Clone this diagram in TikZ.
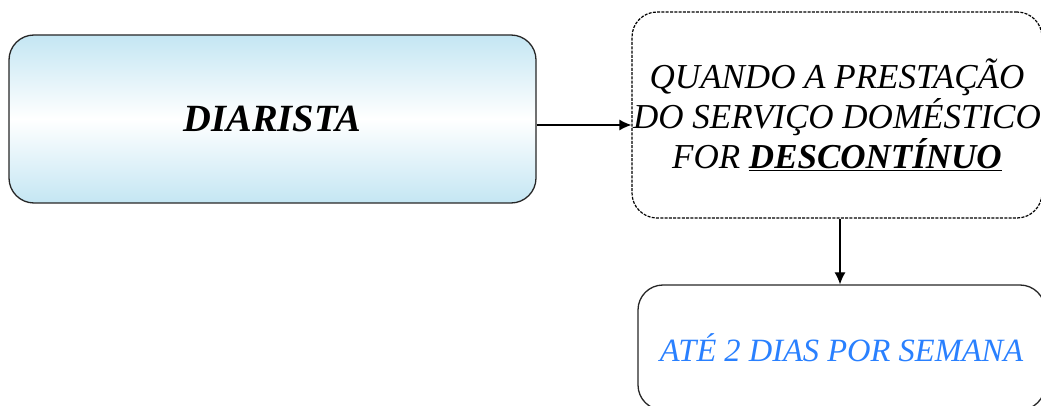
\documentclass[tikz,border=0pt]{standalone}
\usepackage{fontspec}
\setmainfont{Liberation Serif}[
  ItalicFont={* Italic}, BoldItalicFont={* Bold Italic}]
\usetikzlibrary{arrows.meta}
\definecolor{skyfill}{RGB}{196,230,243}
\definecolor{textblue}{RGB}{41,128,255}

\begin{document}
\begin{tikzpicture}[x=1pt, y=-1pt,
    box/.style={rectangle, draw=black!85, line width=1.3pt, rounded corners=25pt, align=center, inner sep=0pt},
    shadebox/.style={box, top color=skyfill, bottom color=skyfill, middle color=white},
    dashbox/.style={box, draw=black, line width=1.2pt, dash pattern=on 3pt off 1.3pt},
    arrow/.style={-{Latex[length=12pt, width=11pt]}, line width=1.2pt, draw=black}
]
    \clip (0,0) rectangle (1041,406);
    % Nodes
    \node[shadebox, minimum width=527pt, minimum height=168pt] (diarista) at (272.5,119) {\fontsize{38.5}{44}\selectfont\bfseries\itshape DIARISTA};
    \node[dashbox, minimum width=410pt, minimum height=206pt, font=\fontsize{35}{40}\selectfont\itshape] (quando) at (837,115) {QUANDO A PRESTAÇÃO\\DO SERVIÇO DOMÉSTICO\\FOR \underline{\bfseries DESCONTÍNUO}};
    \node[box, minimum width=407pt, minimum height=125pt] (semana) at (841.5,347.5) {\fontsize{32.5}{36}\selectfont\itshape\color{textblue} ATÉ 2 DIAS POR SEMANA};

    % Connectors
    \draw[arrow] (diarista.east |- 0,125) -- (quando.west |- 0,125);
    \draw[arrow] (quando.south -| 840,0) -- (semana.north -| 840,0);
\end{tikzpicture}
\end{document}
